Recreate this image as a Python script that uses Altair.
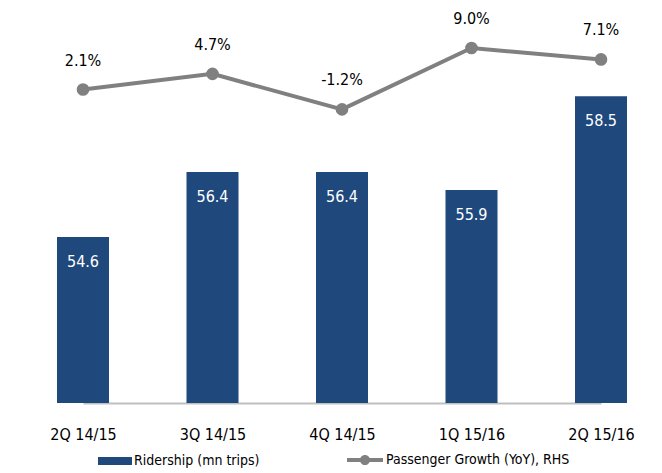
import altair as alt
import pandas as pd

categories = ["2Q 14/15", "3Q 14/15", "4Q 14/15", "1Q 15/16", "2Q 15/16"]
ridership = [54.6, 56.4, 56.4, 55.9, 58.5]
growth = [2.1, 4.7, -1.2, 9.0, 7.1]

bar_name = "Ridership (mn trips)"
line_name = "Passenger Growth (YoY), RHS"

FONT = "DejaVu Sans Condensed, Lato, sans-serif"
BLUE = "#1F497D"
GREY = "#808080"

df = pd.DataFrame({
    "cat": categories,
    "ridership": ridership,
    "growth": growth,
    "rlabel": [f"{v:.1f}" for v in ridership],
    "glabel": [f"{v:.1f}%" for v in growth],
    "s1": bar_name,
    "s2": line_name,
})

x = alt.X(
    "cat:N",
    sort=categories,
    scale=alt.Scale(type="point", padding=0, range=[65, 583]),
    axis=alt.Axis(
        title=None, labelAngle=0, ticks=False, grid=False,
        domainColor="#BFBFBF", domainWidth=2,
        labelFont=FONT, labelFontSize=16, labelColor="#000000",
        labelPadding=23,
    ),
)

y_left = alt.Y("ridership:Q", scale=alt.Scale(domain=[50, 60], nice=False, zero=False), axis=None)
y_right = alt.Y("growth:Q", scale=alt.Scale(domain=[-50, 10], nice=False, zero=False), axis=None)

bar_path = "M-1,-0.235L1,-0.235L1,0.235L-1,0.235Z"
line_path = ("M-1,-0.11L1,-0.11L1,0.11L-1,0.11Z "
             "M0.28,0A0.28,0.28,0,1,1,-0.28,0A0.28,0.28,0,1,1,0.28,0Z")

bars = alt.Chart(df).mark_bar(size=52).encode(
    x=x,
    y=y_left,
    y2=alt.datum(50),
    fill=alt.Fill(
        "s1:N",
        scale=alt.Scale(domain=[bar_name], range=[BLUE]),
        legend=alt.Legend(
            title=None, orient="none", legendX=80, legendY=402,
            symbolType=bar_path, symbolSize=1156, symbolStrokeWidth=0,
            labelFont=FONT, labelFontSize=14, labelColor="#000000",
            labelOffset=2, padding=0, labelLimit=400,
        ),
    ),
)

bar_text = alt.Chart(df).mark_text(
    font=FONT, fontSize=16, color="white", baseline="middle", dy=25
).encode(x=x, y=y_left, text="rlabel:N")

line = alt.Chart(df).mark_line(strokeWidth=4).encode(
    x=x,
    y=y_right,
    stroke=alt.Stroke(
        "s2:N",
        scale=alt.Scale(domain=[line_name], range=[GREY]),
        legend=alt.Legend(
            title=None, orient="none", legendX=329, legendY=400,
            symbolType=line_path, symbolSize=1296, symbolStrokeWidth=0,
            symbolFillColor=GREY,
            labelFont=FONT, labelFontSize=14, labelColor="#000000",
            labelOffset=3, padding=0, labelLimit=400,
        ),
    ),
)

pts = alt.Chart(df).mark_circle(size=160, color=GREY, opacity=1).encode(x=x, y=y_right)

line_text = alt.Chart(df).mark_text(
    font=FONT, fontSize=16, color="#000000", baseline="middle", dy=-29
).encode(x=x, y=y_right, text="glabel:N")

left = alt.layer(bars, bar_text)
right = alt.layer(line, pts, line_text)

chart = alt.layer(left, right).resolve_scale(
    y="independent", fill="independent", stroke="independent"
).properties(
    width=636, height=361,
    autosize=alt.AutoSizeParams(type="none"),
    padding={"left": 10, "top": 34, "right": 0, "bottom": 70},
).configure_view(stroke=None)

chart.save("out.html", embed_options={"renderer": "svg", "actions": False})
